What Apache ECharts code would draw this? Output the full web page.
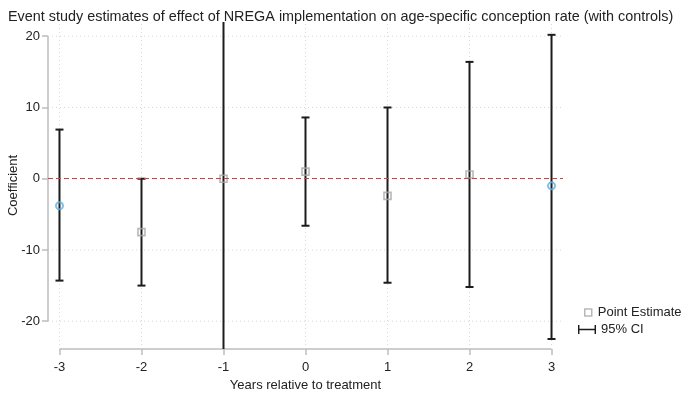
<!DOCTYPE html>
<html>
<head>
<meta charset="utf-8">
<script src="https://cdn.jsdelivr.net/npm/echarts@6/dist/echarts.min.js"></script>
<style>
  html, body { margin: 0; padding: 0; background: #fff; }
  #chart { width: 681px; height: 396px; }
</style>
</head>
<body>
<div id="chart"></div>
<script>
// Event-study coefficients with 95% confidence intervals
const years = [-3, -2, -1, 0, 1, 2, 3];
const estimates = [-3.8, -7.5, 0.0, 1.0, -2.4, 0.6, -1.0];
const ciLower = [-14.3, -15.0, -30.0, -6.6, -14.6, -15.2, -22.5];
const ciUpper = [6.9, 0.0, 30.0, 8.6, 10.0, 16.4, 20.2];
const xTicks = [-3, -2, -1, 0, 1, 2, 3];
const yTicks = [-20, -10, 0, 10, 20];
const xRange = [-3.14, 3.14];
const yRange = [-23.9, 22.0];

const FONT = "'Liberation Sans', Arial, sans-serif";
const chart = echarts.init(document.getElementById('chart'));

// Dotted grid plus axis lines that only span the tick range
function renderFrame(params, api) {
  const children = [];
  const dotted = { stroke: '#d8d8d8', lineWidth: 1, lineDash: [1, 3] };
  xTicks.forEach(function (x) {
    const a = api.coord([x, yRange[0]]);
    const b = api.coord([x, yRange[1]]);
    children.push({ type: 'line', shape: { x1: a[0], y1: a[1] - 4, x2: b[0], y2: b[1] }, style: dotted });
  });
  yTicks.forEach(function (y) {
    const a = api.coord([xRange[0], y]);
    const b = api.coord([xRange[1], y]);
    children.push({ type: 'line', shape: { x1: a[0], y1: a[1], x2: b[0], y2: b[1] }, style: dotted });
  });
  const axisStyle = { stroke: '#bdbdbd', lineWidth: 1.5 };
  const y0 = api.coord([xRange[0], yTicks[0]]);
  const y1 = api.coord([xRange[0], yTicks[yTicks.length - 1]]);
  children.push({ type: 'line', shape: { x1: y0[0], y1: y0[1], x2: y1[0], y2: y1[1] }, style: axisStyle });
  const x0 = api.coord([xTicks[0], yRange[0]]);
  const x1 = api.coord([xTicks[xTicks.length - 1], yRange[0]]);
  children.push({ type: 'line', shape: { x1: x0[0], y1: x0[1], x2: x1[0], y2: x1[1] }, style: axisStyle });
  return { type: 'group', children: children };
}

// Vertical CI bar with end caps
function renderCI(params, api) {
  const x = api.value(0);
  const top = api.coord([x, api.value(2)]);
  const bot = api.coord([x, api.value(1)]);
  const cap = 4;
  const st = { stroke: '#1c1c1c', lineWidth: 2 };
  return {
    type: 'group',
    children: [
      { type: 'line', shape: { x1: top[0], y1: top[1], x2: bot[0], y2: bot[1] }, style: st },
      { type: 'line', shape: { x1: top[0] - cap, y1: top[1], x2: top[0] + cap, y2: top[1] }, style: st },
      { type: 'line', shape: { x1: bot[0] - cap, y1: bot[1], x2: bot[0] + cap, y2: bot[1] }, style: st }
    ]
  };
}

const ciData = years.map(function (y, i) { return [y, ciLower[i], ciUpper[i]]; });
const pointData = years.map(function (y, i) {
  const edge = (i === 0 || i === years.length - 1);
  return {
    value: [y, estimates[i]],
    symbol: edge ? 'circle' : 'rect',
    symbolSize: 7,
    itemStyle: edge
      ? { color: 'rgba(0,0,0,0)', borderColor: '#62aee0', borderWidth: 2 }
      : { color: 'rgba(0,0,0,0)', borderColor: '#a6a6a6', borderWidth: 1.6 }
  };
});

chart.setOption({
  animation: false,
  backgroundColor: '#fff',
  title: {
    text: 'Event study estimates of effect of NREGA implementation on age-specific conception rate (with controls)',
    left: 3, top: 5,
    textStyle: { fontFamily: FONT, fontSize: 14.4, fontWeight: 'normal', color: '#222' }
  },
  legend: [
    {
      data: [{ name: 'Point Estimate', icon: 'rect', itemStyle: { color: '#fff', borderColor: '#a6a6a6', borderWidth: 1.5 } }],
      left: 579, top: 301, orient: 'vertical',
      itemWidth: 7, itemHeight: 7, itemGap: 4,
      textStyle: { fontFamily: FONT, fontSize: 13, color: '#222', padding: [0, 0, 0, 1] }
    },
    {
      data: [{ name: '95% CI', icon: 'path://M0,0h1.6v4.2h16.8v-4.2h1.6v10h-1.6v-4.2h-16.8v4.2h-1.6z', itemStyle: { color: '#1c1c1c' } }],
      left: 573, top: 318, orient: 'vertical',
      itemWidth: 18, itemHeight: 9, itemGap: 4,
      textStyle: { fontFamily: FONT, fontSize: 13, color: '#222', padding: [0, 0, 0, 0] }
    }
  ],
  grid: { left: 48, right: 118, top: 22, bottom: 47, outerBoundsMode: 'none', containLabel: false },
  xAxis: {
    type: 'value', min: xRange[0], max: xRange[1],
    name: 'Years relative to treatment', nameLocation: 'middle', nameGap: 30, nameMoveOverlap: false,
    nameTextStyle: { fontFamily: FONT, fontSize: 13, color: '#222' },
    axisLine: { show: false, onZero: false },
    axisTick: { show: true, customValues: xTicks, length: 6, lineStyle: { color: '#bdbdbd', width: 1.5 } },
    axisLabel: { customValues: xTicks, margin: 12, fontFamily: FONT, fontSize: 13, color: '#222' },
    splitLine: { show: false }
  },
  yAxis: {
    type: 'value', min: yRange[0], max: yRange[1],
    name: 'Coefficient', nameLocation: 'middle', nameGap: 28, nameMoveOverlap: false,
    nameTextStyle: { fontFamily: FONT, fontSize: 13, color: '#222' },
    axisLine: { show: false, onZero: false },
    axisTick: { show: true, customValues: yTicks, length: 6, lineStyle: { color: '#bdbdbd', width: 1.5 } },
    axisLabel: { customValues: yTicks, margin: 8, fontFamily: FONT, fontSize: 13, color: '#222' },
    splitLine: { show: false }
  },
  series: [
    {
      name: 'frame', type: 'custom', renderItem: renderFrame, data: [0],
      clip: false, silent: true, z: 1
    },
    {
      name: '95% CI', type: 'custom', renderItem: renderCI, data: ciData,
      encode: { x: 0, y: [1, 2] }, clip: true, z: 3,
      itemStyle: { color: '#1c1c1c' },
      markLine: {
        silent: true, symbol: 'none', label: { show: false },
        lineStyle: { color: '#e03a3a', width: 1, type: [5, 3] },
        data: [{ yAxis: 0 }]
      }
    },
    {
      name: 'Point Estimate', type: 'scatter', data: pointData, z: 4,
      itemStyle: { color: '#fff', borderColor: '#a6a6a6', borderWidth: 1.5 }
    }
  ]
});
</script>
</body>
</html>
